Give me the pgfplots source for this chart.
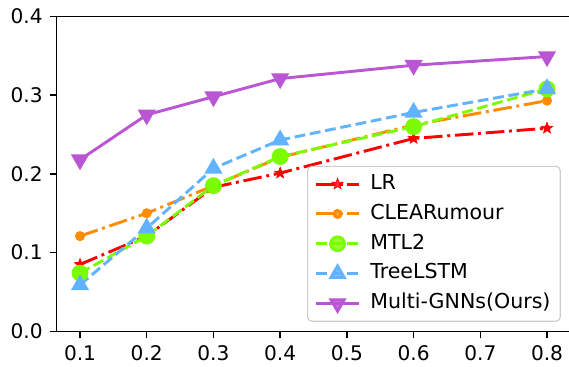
\documentclass[border=0pt]{standalone}
\usepackage{fontspec}
\setmainfont{DejaVu Sans}
\usepackage{pgfplots}
\pgfplotsset{compat=1.18}
\definecolor{cLR}{RGB}{255,0,0}
\definecolor{cCL}{RGB}{255,140,0}
\definecolor{cMT}{RGB}{124,252,0}
\definecolor{cTL}{RGB}{97,178,255}
\definecolor{cMG}{RGB}{186,85,211}
\pgfdeclareplotmark{fstar}{%
  \pgfpathmoveto{\pgfqpointpolar{90}{\pgfplotmarksize}}%
  \pgfpathlineto{\pgfqpointpolar{126}{0.42\pgfplotmarksize}}%
  \pgfpathlineto{\pgfqpointpolar{162}{\pgfplotmarksize}}%
  \pgfpathlineto{\pgfqpointpolar{198}{0.42\pgfplotmarksize}}%
  \pgfpathlineto{\pgfqpointpolar{234}{\pgfplotmarksize}}%
  \pgfpathlineto{\pgfqpointpolar{270}{0.42\pgfplotmarksize}}%
  \pgfpathlineto{\pgfqpointpolar{306}{\pgfplotmarksize}}%
  \pgfpathlineto{\pgfqpointpolar{342}{0.42\pgfplotmarksize}}%
  \pgfpathlineto{\pgfqpointpolar{18}{\pgfplotmarksize}}%
  \pgfpathlineto{\pgfqpointpolar{54}{0.42\pgfplotmarksize}}%
  \pgfpathclose
  \pgfusepathqfillstroke}
\begin{document}
\begin{tikzpicture}
\begin{axis}[
  name=ax,
  scale only axis,
  width=369.9pt, height=226.8pt,
  xmin=0.065, xmax=0.835,
  ymin=0, ymax=0.4,
  xtick={0.1,0.2,0.3,0.4,0.5,0.6,0.7,0.8},
  ytick={0,0.1,0.2,0.3,0.4},
  xtick pos=bottom, ytick pos=left,
  tick align=outside,
  major tick length=5pt,
  tick style={line width=1.1pt, black},
  axis line style={line width=1.1pt},
  /pgf/number format/assume math mode=true,
  xticklabel style={font=\fontsize{14.5}{16}\selectfont, inner sep=0pt, yshift=-4.9pt,
    /pgf/number format/.cd, fixed, fixed zerofill, precision=1},
  yticklabel style={font=\fontsize{14.5}{16}\selectfont, inner sep=0pt, xshift=-4.9pt,
    /pgf/number format/.cd, fixed, fixed zerofill, precision=1},
  legend image code/.code={\draw[mark repeat=2,mark phase=2] plot coordinates {(0pt,0pt)(15.5pt,0pt)(31pt,0pt)};},
  legend cell align=left,
  legend style={at={(0.9813,0.0304)}, anchor=south east,
    draw=black!20, line width=0.8pt, rounded corners=3pt, fill=white, fill opacity=0.8, text opacity=1,
    font=\fontsize{14.8}{16}\selectfont,
    inner xsep=5pt, inner ysep=4pt, row sep=4pt,
    nodes={inner sep=2pt, text height=10.5pt, text depth=3pt},
    /tikz/every odd column/.append style={column sep=5pt}},
]
\addplot[color=cLR, line width=2.1pt, dash pattern=on 13.4pt off 3.4pt on 2.1pt off 3.4pt,
  mark=fstar, mark size=4.2pt, mark options={solid, fill=cLR, line width=0.5pt}]
  coordinates {(0.1,0.085)(0.2,0.121)(0.3,0.183)(0.4,0.201)(0.6,0.245)(0.8,0.258)};
\addlegendentry{LR}
\addplot[color=cCL, line width=2.1pt, dash pattern=on 13.4pt off 3.4pt on 2.1pt off 3.4pt,
  mark=*, mark size=2.5pt, mark options={solid, fill=cCL}]
  coordinates {(0.1,0.121)(0.2,0.150)(0.3,0.185)(0.4,0.221)(0.6,0.262)(0.8,0.293)};
\addlegendentry{CLEARumour}
\addplot[color=cMT, line width=2.1pt, dash pattern=on 7.8pt off 3.4pt,
  mark=*, mark size=5pt, mark options={solid, fill=cMT}]
  coordinates {(0.1,0.074)(0.2,0.121)(0.3,0.185)(0.4,0.222)(0.6,0.260)(0.8,0.308)};
\addlegendentry{MTL2}
\addplot[color=cTL, line width=2.1pt, dash pattern=on 7.8pt off 3.4pt,
  mark=triangle*, mark size=5.5pt, mark options={solid, fill=cTL}]
  coordinates {(0.1,0.059)(0.2,0.131)(0.3,0.207)(0.4,0.243)(0.6,0.278)(0.8,0.308)};
\addlegendentry{TreeLSTM}
\addplot[color=cMG, line width=2.1pt, solid,
  mark=triangle*, mark size=5.5pt, mark options={solid, fill=cMG, rotate=180}]
  coordinates {(0.1,0.218)(0.2,0.275)(0.3,0.298)(0.4,0.321)(0.6,0.338)(0.8,0.349)};
\addlegendentry{Multi-GNNs(Ours)}
\end{axis}
\pgfresetboundingbox
\path (ax.south west) ++(-40.8pt,-25.6pt) rectangle ++(409.7pt,264.2pt);
\end{tikzpicture}
\end{document}
